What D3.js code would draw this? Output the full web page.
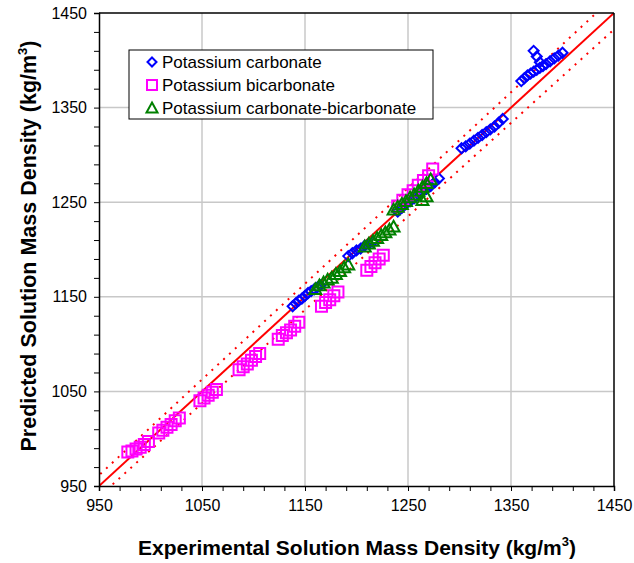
<!DOCTYPE html>
<html>
<head>
<meta charset="utf-8">
<script src="https://cdn.jsdelivr.net/npm/d3@7"></script>
<style>
  body { margin: 0; background: #fff; }
  text { font-family: "Liberation Sans", Arial, sans-serif; }
</style>
</head>
<body>
<svg id="chart"></svg>
<script>
// experimental vs predicted density, kg/m3
const carbonate = [
  [1138, 1140], [1141, 1143], [1144, 1146], [1147, 1148], [1150, 1151], [1153, 1154],
  [1156, 1156], [1159, 1158], [1162, 1160], [1165, 1162],
  [1192, 1193], [1196, 1196], [1200, 1199], [1204, 1201], [1208, 1204], [1212, 1206], [1216, 1208],
  [1240, 1240], [1244, 1244], [1248, 1248], [1252, 1251], [1256, 1254], [1260, 1258],
  [1264, 1261], [1268, 1264], [1272, 1267], [1276, 1271], [1280, 1275],
  [1302, 1307], [1306, 1309], [1310, 1312], [1314, 1315], [1318, 1318], [1322, 1321],
  [1326, 1324], [1330, 1327], [1334, 1330], [1338, 1334], [1342, 1338],
  [1360, 1378], [1363, 1381], [1366, 1384], [1369, 1386], [1372, 1388], [1375, 1390],
  [1378, 1392], [1381, 1394], [1384, 1396], [1388, 1399], [1392, 1402], [1396, 1405],
  [1400, 1408], [1372, 1410], [1375, 1404], [1378, 1398]
];
const bicarbonate = [
  [978, 986], [982, 987], [986, 989], [990, 991], [994, 994], [998, 997],
  [1008, 1006], [1012, 1009], [1016, 1012], [1020, 1015], [1024, 1019], [1028, 1022],
  [1048, 1040], [1052, 1043], [1056, 1046], [1060, 1049], [1064, 1052],
  [1086, 1073], [1090, 1076], [1094, 1079], [1098, 1083], [1102, 1087], [1106, 1090],
  [1124, 1105], [1128, 1109], [1132, 1112], [1136, 1115], [1140, 1119], [1144, 1123],
  [1166, 1140], [1170, 1144], [1174, 1147], [1178, 1151], [1182, 1155],
  [1210, 1178], [1214, 1182], [1218, 1186], [1222, 1190], [1226, 1194],
  [1240, 1246], [1245, 1252], [1250, 1258], [1255, 1262], [1260, 1268], [1265, 1273],
  [1270, 1278], [1274, 1285]
];
const mixed = [
  [1160, 1158], [1164, 1162], [1168, 1165], [1172, 1168], [1176, 1170], [1180, 1174],
  [1184, 1177], [1188, 1181], [1192, 1184],
  [1208, 1203], [1212, 1206], [1216, 1209], [1220, 1212], [1224, 1215], [1228, 1218],
  [1232, 1221], [1236, 1224],
  [1236, 1242], [1240, 1245], [1244, 1248], [1248, 1251], [1252, 1255], [1256, 1258],
  [1260, 1262], [1264, 1266], [1268, 1270], [1272, 1274], [1264, 1252], [1268, 1256]
];
const seriesNames = ["Potassium carbonate", "Potassium bicarbonate", "Potassium carbonate-bicarbonate"];
const tickValues = [950, 1050, 1150, 1250, 1350, 1450];
const band = 0.012; // dashed lines, +/- fraction

const width = 634;
const height = 563;
const margin = { top: 13, right: 20, bottom: 77, left: 99 };

const x = d3.scaleLinear([950, 1450], [margin.left, width - margin.right]);
const y = d3.scaleLinear([950, 1450], [height - margin.bottom, margin.top]);

const svg = d3.select("#chart").attr("width", width).attr("height", height);

const clipId = "plotclip";
svg.append("clipPath").attr("id", clipId)
  .append("rect")
  .attr("x", x(950)).attr("y", y(1450))
  .attr("width", x(1450) - x(950)).attr("height", y(950) - y(1450));

// grid
svg.append("g")
  .selectAll("line.gx")
  .data(tickValues.slice(1, -1))
  .join("line")
  .attr("x1", (d) => x(d)).attr("x2", (d) => x(d))
  .attr("y1", y(950)).attr("y2", y(1450))
  .attr("stroke", "#c8c8c8").attr("stroke-width", 1.5);
svg.append("g")
  .selectAll("line.gy")
  .data(tickValues.slice(1, -1))
  .join("line")
  .attr("y1", (d) => y(d)).attr("y2", (d) => y(d))
  .attr("x1", x(950)).attr("x2", x(1450))
  .attr("stroke", "#c8c8c8").attr("stroke-width", 1.5);

// parity lines
const lines = svg.append("g").attr("clip-path", `url(#${clipId})`);
lines.append("line")
  .attr("x1", x(950)).attr("y1", y(950)).attr("x2", x(1450)).attr("y2", y(1450))
  .attr("stroke", "red").attr("stroke-width", 2);
[1 + band, 1 - band].forEach((f) => {
  lines.append("line")
    .attr("x1", x(900)).attr("y1", y(900 * f)).attr("x2", x(1500)).attr("y2", y(1500 * f))
    .attr("stroke", "red").attr("stroke-width", 2)
    .attr("stroke-dasharray", "2,6");
});

// markers
const diamond = (s) => `M0,${-s}L${s},0L0,${s}L${-s},0Z`;
const square = (s) => `M${-s},${-s}H${s}V${s}H${-s}Z`;
const triangle = (s) => `M0,${-s}L${s},${s * 0.8}L${-s},${s * 0.8}Z`;

const series = [
  { name: seriesNames[0], data: carbonate, color: "#0000ff", path: diamond(5) },
  { name: seriesNames[1], data: bicarbonate, color: "#ff00ff", path: square(5.5) },
  { name: seriesNames[2], data: mixed, color: "#008000", path: triangle(6) },
];

series.forEach((s) => {
  svg.append("g")
    .selectAll("path")
    .data(s.data)
    .join("path")
    .attr("d", s.path)
    .attr("transform", (d) => `translate(${x(d[0])},${y(d[1])})`)
    .attr("fill", "none")
    .attr("stroke", s.color)
    .attr("stroke-width", 2);
});

// axes
const xAxis = d3.axisBottom(x).tickValues(d3.range(950, 1451, 20)).tickSize(5)
  .tickFormat((d) => (tickValues.includes(d) ? d : ""));
const yAxis = d3.axisLeft(y).tickValues(d3.range(950, 1451, 20)).tickSize(5)
  .tickFormat((d) => (tickValues.includes(d) ? d : ""));

svg.append("g")
  .attr("transform", `translate(0,${y(950)})`)
  .call(xAxis)
  .call((g) => g.select(".domain").attr("stroke-width", 1.5))
  .call((g) => g.selectAll("text").attr("font-size", 16).attr("font-family", "Liberation Sans, Arial")
    .attr("fill", "#000").attr("y", 14).attr("dy", "0.71em"));
svg.append("g")
  .attr("transform", `translate(${x(950)},0)`)
  .call(yAxis)
  .call((g) => g.select(".domain").attr("stroke-width", 1.5))
  .call((g) => g.selectAll("text").attr("font-size", 16).attr("font-family", "Liberation Sans, Arial")
    .attr("fill", "#000").attr("x", -12));

// plot frame top/right
svg.append("line").attr("x1", x(950)).attr("x2", x(1450)).attr("y1", y(1450)).attr("y2", y(1450))
  .attr("stroke", "#000").attr("stroke-width", 1.5);
svg.append("line").attr("x1", x(1450)).attr("x2", x(1450)).attr("y1", y(1450)).attr("y2", y(950))
  .attr("stroke", "#000").attr("stroke-width", 1.5);

// axis titles
const xt = svg.append("text")
  .attr("x", 357).attr("y", 555)
  .attr("text-anchor", "middle")
  .attr("font-size", 21).attr("font-weight", "bold");
xt.append("tspan").text("Experimental Solution Mass Density (kg/m");
xt.append("tspan").attr("dy", -9).attr("font-size", 13).text("3");
xt.append("tspan").attr("dy", 9).text(")");

const yt = svg.append("text")
  .attr("transform", `translate(36,246) rotate(-90)`)
  .attr("text-anchor", "middle")
  .attr("font-size", 21.5).attr("font-weight", "bold");
yt.append("tspan").text("Predicted Solution Mass Density (kg/m");
yt.append("tspan").attr("dy", -9).attr("font-size", 13).text("3");
yt.append("tspan").attr("dy", 9).text(")");

// legend
const legend = svg.append("g");
legend.append("rect")
  .attr("x", 129).attr("y", 50).attr("width", 304).attr("height", 69)
  .attr("fill", "#fff").attr("stroke", "#000").attr("stroke-width", 1);
series.forEach((s, i) => {
  const ly = 62 + i * 23;
  legend.append("path")
    .attr("d", i === 0 ? diamond(4.5) : i === 1 ? square(5) : triangle(5.5))
    .attr("transform", `translate(152,${ly})`)
    .attr("fill", "none").attr("stroke", s.color).attr("stroke-width", 2);
  legend.append("text")
    .attr("x", 162).attr("y", ly + 6)
    .attr("font-size", 17)
    .text(s.name);
});
</script>
</body>
</html>
